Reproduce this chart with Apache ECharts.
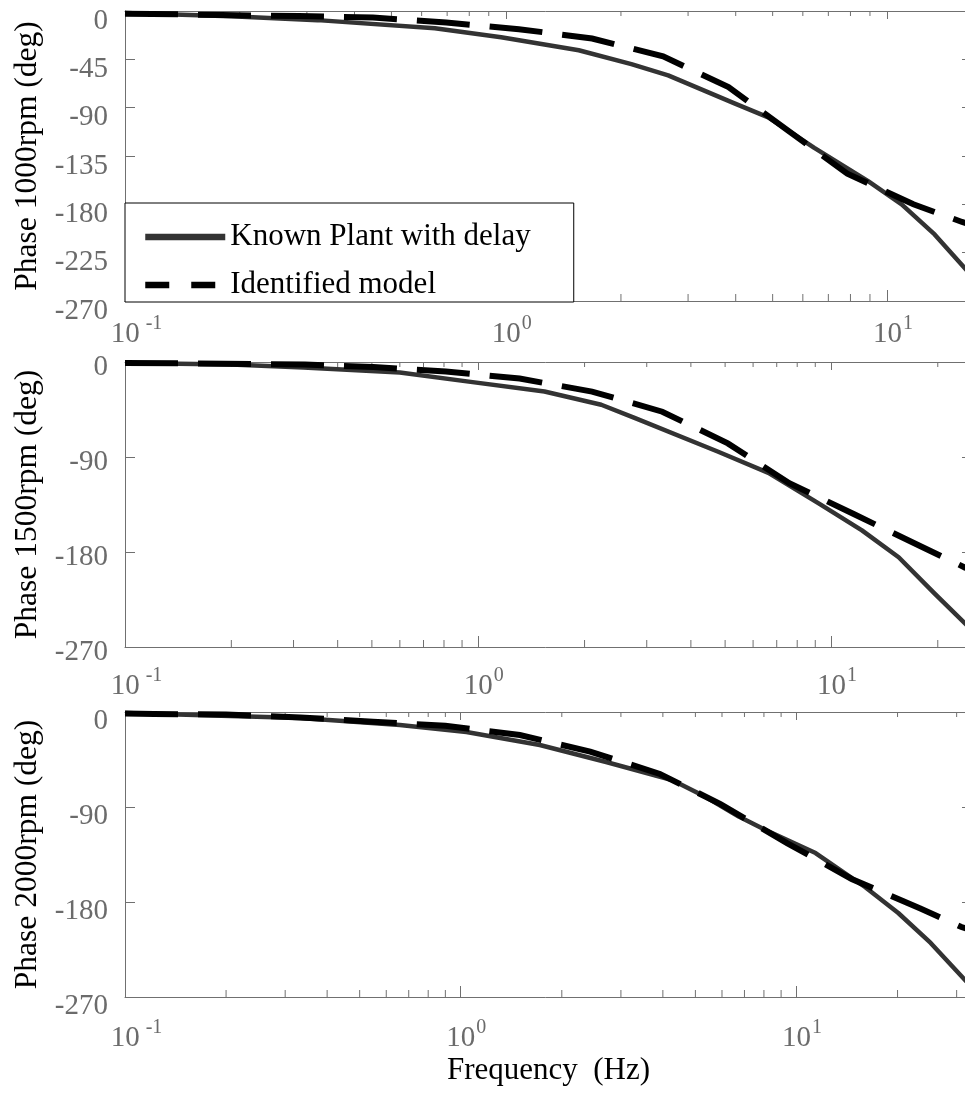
<!DOCTYPE html>
<html>
<head>
<meta charset="utf-8">
<script src="https://cdn.jsdelivr.net/npm/echarts@6/dist/echarts.min.js"></script>
<style>
html,body{margin:0;padding:0;background:#fff;}
#chart{width:965px;height:1094px;}
</style>
</head>
<body>
<div id="chart"></div>
<script>
// ---------------- data ----------------
const seriesNames = ['Known Plant with delay', 'Identified model'];
const yTitles = ['Phase 1000rpm (deg)', 'Phase 1500rpm (deg)', 'Phase 2000rpm (deg)'];
const xTitle = 'Frequency  (Hz)';
const freqMin = 0.1;
const freqMax = [16.67, 25, 33.33];
const phaseMin = -270;
const phaseMax = 0;
const phaseStep = [45, 90, 90];
const minorFreqs = [0.2, 0.3, 0.4, 0.5, 0.6, 0.7, 0.8, 0.9, 2, 3, 4, 5, 6, 7, 8, 9, 20, 30];

// 1000 rpm
const freqKnown1000  = [0.1, 0.19, 0.32, 0.65, 0.97, 1.55, 2.13, 2.66, 3.97, 4.87, 6.43, 8.9, 10.9, 13.3, 16.67];
const phaseKnown1000 = [-1.9, -5, -8.5, -16, -24.5, -36.5, -49.5, -60, -86, -99, -127.5, -158.4, -180, -208, -247];
const freqIdent1000  = [0.1, 0.118, 0.18, 0.286, 0.447, 0.696, 1.08, 1.68, 2.58, 3.83, 5.5, 7.85, 11.7, 15.7, 16.67];
const phaseIdent1000 = [-2.5, -2.8, -3.7, -4.7, -6, -10.8, -16.9, -25.6, -42.2, -70.8, -111.6, -151.4, -180, -196.4, -199];

// 1500 rpm
const freqKnown1500  = [0.1, 0.2, 0.32, 0.6, 0.94, 1.54, 2.23, 2.77, 4.78, 6.63, 9.2, 12.2, 15.5, 19.6, 25];
const phaseKnown1500 = [-1, -2.4, -5.2, -10, -18.6, -28, -40.5, -53, -85, -105, -134, -159.5, -185, -219.5, -254];
const freqIdent1500  = [0.1, 0.15, 0.323, 0.505, 0.81, 1.31, 2.1, 3.32, 5.09, 7.6, 11.6, 17.7, 23.9, 25];
const phaseIdent1500 = [-1, -1.2, -2.4, -4.8, -9, -15.7, -28, -47.1, -77.1, -114.8, -144.3, -173.8, -194.8, -197];

// 2000 rpm
const freqKnown2000  = [0.1, 0.333, 0.659, 1.04, 1.72, 2.71, 4.26, 5.37, 6.73, 8.09, 11.4, 16.0, 20.1, 25.1, 33.33];
const phaseKnown2000 = [-1, -5.7, -12.3, -19, -31.3, -47.4, -64.4, -80.5, -99, -111.8, -133.6, -165.8, -190.4, -218.8, -261];
const freqIdent2000  = [0.1, 0.122, 0.2, 0.333, 0.548, 0.9, 1.5, 2.43, 3.92, 5.94, 9.4, 14.6, 23.3, 31, 33.33];
const phaseIdent2000 = [-1.5, -1.9, -2.4, -5.2, -9.2, -13.1, -21.8, -37.5, -58.7, -87.3, -124.4, -158.2, -186, -203.7, -207];

const panels = [
  { known: [freqKnown1000, phaseKnown1000], ident: [freqIdent1000, phaseIdent1000] },
  { known: [freqKnown1500, phaseKnown1500], ident: [freqIdent1500, phaseIdent1500] },
  { known: [freqKnown2000, phaseKnown2000], ident: [freqIdent2000, phaseIdent2000] }
];

// ---------------- styling / layout ----------------
const FONT = '"Liberation Serif", "Times New Roman", Times, serif';
const AXIS_COLOR = '#707070';
const LABEL_COLOR = '#6b6b6b';
const gridLayout = [
  { left: 125, top: 11, width: 847, height: 290, labelMargin: 9, yLabelLH: 20 },
  { left: 125, top: 362, width: 847, height: 285, labelMargin: 15, yLabelLH: 11 },
  { left: 125, top: 712, width: 847, height: 285, labelMargin: 17, yLabelLH: 18 }
];

function zip(a, b) { return a.map((v, i) => [v, b[i]]); }

function xLabelFormatter(value) {
  const lg = Math.log10(value);
  const e = Math.round(lg);
  if (Math.abs(lg - e) > 1e-6) return '';
  return e < 0 ? '{bn|10}{sn|' + e + '}' : '{bp|10}{sp|' + e + '}';
}

// base "10" and superscript tokens both fill the whole line box (39px),
// so the superscript is raised regardless of token alignment rules.
const xRich = {
  bn: { fontFamily: FONT, fontSize: 29, height: 29, color: LABEL_COLOR, padding: [10, 0, 0, 23] },
  bp: { fontFamily: FONT, fontSize: 29, height: 29, color: LABEL_COLOR, padding: [10, 0, 0, 11] },
  sn: { fontFamily: FONT, fontSize: 20, height: 20, color: LABEL_COLOR, padding: [3.5, 0, 15.5, 6] },
  sp: { fontFamily: FONT, fontSize: 20, height: 20, color: LABEL_COLOR, padding: [3.5, 0, 15.5, 1] }
};

const grids = [], xAxes = [], yAxes = [], series = [];

gridLayout.forEach((g, k) => {
  grids.push({ left: g.left, top: g.top, width: g.width, height: g.height, containLabel: false, outerBoundsMode: 'none' });
  // bottom x
  xAxes.push({
    type: 'log', logBase: 10, gridIndex: k, position: 'bottom',
    min: freqMin, max: freqMax[k],
    axisLine: { show: true, onZero: false, lineStyle: { color: AXIS_COLOR, width: 1 } },
    axisTick: { show: true, inside: true, length: 11, lineStyle: { color: AXIS_COLOR } },
    minorTick: { show: false },
    splitLine: { show: false },
    axisLabel: { show: true, margin: g.labelMargin, formatter: xLabelFormatter, rich: xRich, hideOverlap: false },
    name: k === 2 ? xTitle : '',
    nameLocation: 'middle', nameGap: 58,
    nameTextStyle: { fontFamily: FONT, fontSize: 31, color: '#000', lineHeight: 31 }
  });
  // top x (box)
  xAxes.push({
    type: 'log', logBase: 10, gridIndex: k, position: 'top',
    min: freqMin, max: freqMax[k],
    axisLine: { show: true, onZero: false, lineStyle: { color: AXIS_COLOR, width: 1 } },
    axisTick: { show: true, inside: true, length: 8, lineStyle: { color: AXIS_COLOR } },
    splitLine: { show: false },
    axisLabel: { show: false }
  });
  // left y
  yAxes.push({
    type: 'value', gridIndex: k, position: 'left',
    min: phaseMin, max: phaseMax, interval: phaseStep[k],
    axisLine: { show: true, onZero: false, lineStyle: { color: AXIS_COLOR, width: 1 } },
    axisTick: { show: true, inside: true, length: 10, lineStyle: { color: AXIS_COLOR } },
    splitLine: { show: false },
    axisLabel: { show: true, margin: 17, fontFamily: FONT, fontSize: 29, color: LABEL_COLOR,
                 verticalAlign: 'top', lineHeight: g.yLabelLH, hideOverlap: false },
    name: yTitles[k], nameLocation: 'middle', nameGap: 81, nameRotate: 90,
    nameTextStyle: { fontFamily: FONT, fontSize: 31.5, color: '#000', lineHeight: 31 }
  });
  // right y (box)
  yAxes.push({
    type: 'value', gridIndex: k, position: 'right',
    min: phaseMin, max: phaseMax, interval: phaseStep[k],
    axisLine: { show: true, onZero: false, lineStyle: { color: AXIS_COLOR, width: 1 } },
    axisTick: { show: true, inside: true, length: 10, lineStyle: { color: AXIS_COLOR } },
    splitLine: { show: false },
    axisLabel: { show: false }
  });

  const p = panels[k];
  series.push({
    type: 'line', name: seriesNames[0], xAxisIndex: 2 * k, yAxisIndex: 2 * k,
    data: zip(p.known[0], p.known[1]),
    symbol: 'none', smooth: false, z: 3,
    lineStyle: { color: '#333333', width: 4.5, cap: 'butt', join: 'round' },
    itemStyle: { color: '#333333' }
  });
  series.push({
    type: 'line', name: seriesNames[1], xAxisIndex: 2 * k, yAxisIndex: 2 * k,
    data: zip(p.ident[0], p.ident[1]),
    symbol: 'none', smooth: false, z: 4,
    lineStyle: { color: '#000000', width: 6, type: [53, 20], cap: 'butt', join: 'miter' },
    itemStyle: { color: '#000000' }
  });
  // minor log ticks (top and bottom), drawn through the axis scale
  series.push({
    type: 'custom', name: 'minorTicks' + k, xAxisIndex: 2 * k, yAxisIndex: 2 * k,
    silent: true, z: 1, clip: false,
    data: minorFreqs.filter(f => f < freqMax[k]).map(f => [f, phaseMin]),
    encode: { x: 0, y: 1 },
    renderItem: function (params, api) {
      const f = api.value(0);
      const pb = api.coord([f, phaseMin]);
      const pt = api.coord([f, phaseMax]);
      const st = { stroke: AXIS_COLOR, lineWidth: 1 };
      return {
        type: 'group',
        children: [
          { type: 'line', shape: { x1: pb[0], y1: pb[1], x2: pb[0], y2: pb[1] - 7 }, style: st },
          { type: 'line', shape: { x1: pt[0], y1: pt[1], x2: pt[0], y2: pt[1] + 5 }, style: st }
        ]
      };
    }
  });
});

const option = {
  animation: false,
  backgroundColor: '#ffffff',
  grid: grids,
  xAxis: xAxes,
  yAxis: yAxes,
  legend: {
    show: true,
    orient: 'vertical',
    left: 125, top: 203,
    padding: [17, 43, 0, 17],
    itemGap: 14,
    itemWidth: 80, itemHeight: 34,
    backgroundColor: '#ffffff',
    borderColor: '#000000', borderWidth: 1, borderRadius: 0,
    selectedMode: false,
    itemStyle: { opacity: 0, borderWidth: 0 },
    textStyle: { fontFamily: FONT, fontSize: 31, color: '#000', lineHeight: 34 },
    data: [
      { name: seriesNames[0], itemStyle: { opacity: 0 }, lineStyle: { color: '#333333', width: 6.5, type: 'solid' } },
      { name: seriesNames[1], itemStyle: { opacity: 0 }, lineStyle: { color: '#000000', width: 6.5, type: [24, 22] } }
    ]
  },
  series: series
};

const chart = echarts.init(document.getElementById('chart'), null, { renderer: 'canvas' });
chart.setOption(option);
</script>
</body>
</html>
